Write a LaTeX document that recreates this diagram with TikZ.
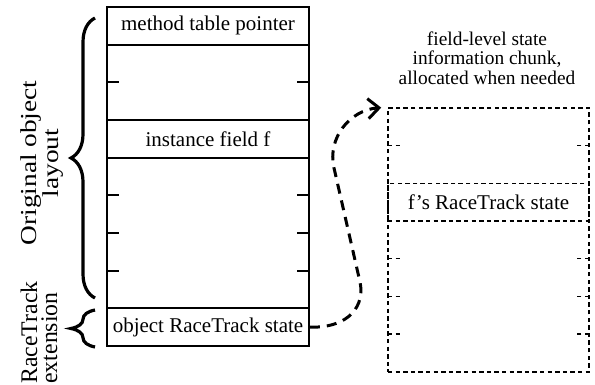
\documentclass[tikz,border=0pt]{standalone}
\usepackage{fontspec}
\setmainfont{Liberation Serif}
\newfontfamily\stretchedfont[FakeStretch=1.2]{Liberation Serif}
\usetikzlibrary{arrows.meta, decorations.pathreplacing}

\tikzset{
  slot/.style={draw, line width=0.9pt, minimum width=101pt, minimum height=18.83pt,
    inner sep=0pt, font=\fontsize{10.5}{12}\selectfont},
  lazyslot/.style={draw, line width=0.8pt, dash pattern=on 2.2pt off 1.6pt,
    minimum width=100.5pt, minimum height=18.83pt, inner sep=0pt,
    font=\fontsize{10.5}{12}\selectfont},
  curly/.style={decorate, decoration={brace, amplitude=12pt}, line width=1.6pt},
}

\begin{document}
\begin{tikzpicture}[x=0.5pt, y=-0.5pt]
\useasboundingbox (0,0) rectangle (595,385);

% Object layout, one row every 37.67 units
\node[slot] (mtp) at (208,25.8) {method table pointer};
\node[slot] (fld) at (208,138.8) {instance field f};
\node[slot] (ors) at (208,327.2) {object RaceTrack state};
\draw[line width=0.9pt] (107,7) rectangle (309,346);
\foreach \k in {2,5,6,7} {
  \draw[line width=0.9pt] (107,{7+\k*37.67}) -- ++(12,0);
  \draw[line width=0.9pt] (309,{7+\k*37.67}) -- ++(-12,0);
}

% Field-level chunk, same row height
\node[lazyslot, minimum height=131.85pt] (chunk) at (488.5,239.85) {};
\node[lazyslot] (fs) at (488.5,202.2) {f's RaceTrack state};
\foreach \k in {1,4,5,6} {
  \draw[line width=0.8pt, dash pattern=on 2.2pt off 1.6pt] (388,{108+\k*37.67}) -- ++(12,0);
  \draw[line width=0.8pt, dash pattern=on 2.2pt off 1.6pt] (589,{108+\k*37.67}) -- ++(-12,0);
}
\node[align=center, font=\fontsize{9.7}{9.8}\selectfont] (info) at (487,58)
  {field-level state\\information chunk,\\allocated when needed};

% Braces and their labels
\draw[curly] (95,298) -- (95,18);
\draw[curly] (95,347) -- (95,310);
\node[rotate=90, align=center, inner sep=0pt, font={\fontsize{11.4}{9.6}\stretchedfont}] (orig) at (42,163)
  {Original object\\layout};
\node[rotate=90, align=left, anchor=west, inner sep=0pt, font=\fontsize{11.9}{10}\selectfont] (ext) at (39,384)
  {RaceTrack\\extension};

% Pointer to the chunk
\draw[line width=1.5pt, dash pattern=on 5pt off 3.5pt, -{Straight Barb[length=5.5pt,width=10pt]}, shorten >=3pt]
  (ors.east) .. controls (350,328) and (365,305) .. (360,282) -- (334,168)
  .. controls (327,138) and (350,110) .. (chunk.north west);
\end{tikzpicture}
\end{document}
